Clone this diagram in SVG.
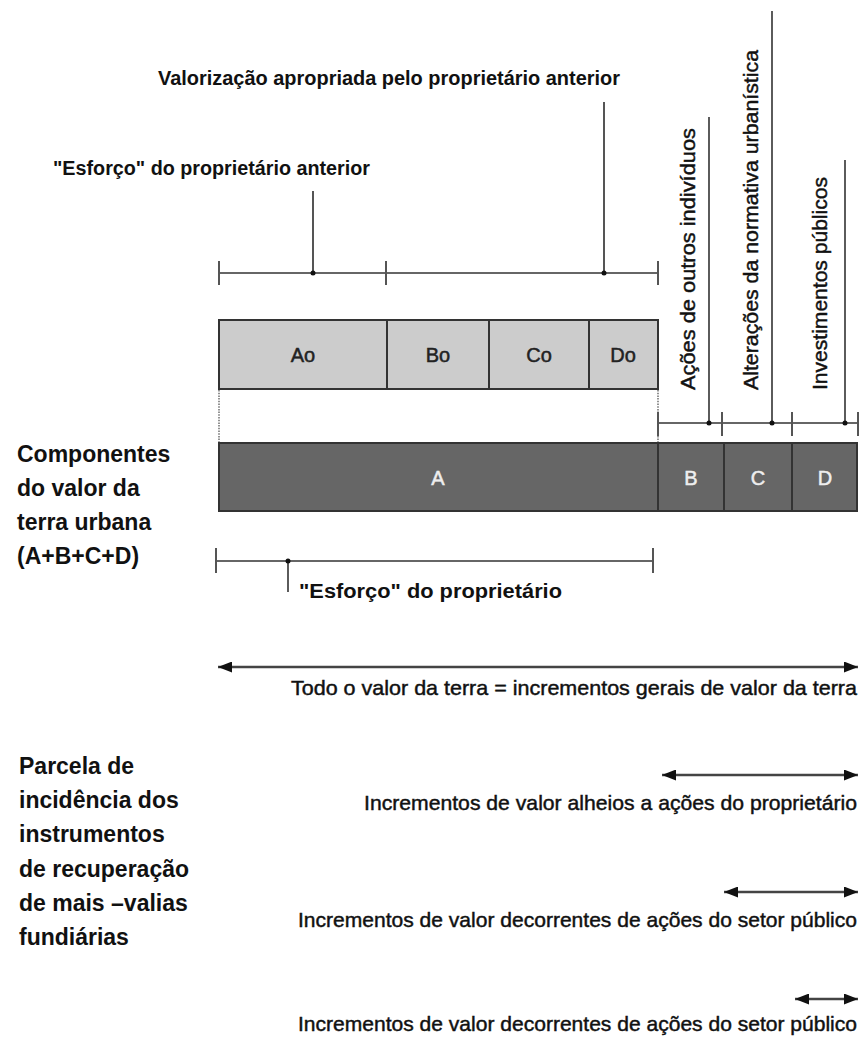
<svg xmlns="http://www.w3.org/2000/svg" width="863" height="1040" viewBox="0 0 863 1040">
<style>
.t{font-family:"Liberation Sans",Arial,sans-serif;fill:#111}
.lbl{font-size:21px;stroke:#111;stroke-width:0.45}
.tb{font-size:20px;font-weight:bold}
.side{font-size:23px;font-weight:bold}
.box-l{fill:#cccccc;stroke:#333;stroke-width:2}
.box-d{fill:#666666;stroke:#333;stroke-width:2}
.ln{stroke:#333;stroke-width:1.6;fill:none}
.tk{stroke:#555;stroke-width:2;fill:none}
.dot{fill:#111}
.dt{stroke:#777;stroke-width:1.6;stroke-dasharray:1.5 1.2;fill:none}
.arr{stroke:#444;stroke-width:2.5;fill:none;marker-start:url(#ah);marker-end:url(#ah)}
.bx{font-family:"Liberation Sans",Arial,sans-serif;font-size:20px;text-anchor:middle;stroke-width:0.5}
</style>
<defs>
<marker id="ah" markerUnits="userSpaceOnUse" markerWidth="14" markerHeight="11" refX="14" refY="5.5" orient="auto-start-reverse" viewBox="0 0 14 11">
<path d="M0,0 L14,5.5 L0,11 z" fill="#111"/>
</marker>
</defs>

<g id="connectors">
<line class="ln" x1="219" y1="273" x2="658" y2="273"/>
<line class="tk" x1="219" y1="261" x2="219" y2="285"/>
<line class="tk" x1="386" y1="261" x2="386" y2="285"/>
<line class="tk" x1="658" y1="261" x2="658" y2="285"/>
<line class="tk" x1="313" y1="191" x2="313" y2="273"/>
<line class="tk" x1="604" y1="102" x2="604" y2="273"/>
<circle class="dot" cx="313" cy="273" r="2.5"/>
<circle class="dot" cx="604" cy="273" r="2.5"/>
<line class="dt" x1="219" y1="390" x2="219" y2="443"/>
<line class="dt" x1="658" y1="390" x2="658" y2="443"/>
<line class="ln" x1="658" y1="423" x2="858" y2="423"/>
<line class="tk" x1="658" y1="412" x2="658" y2="436"/>
<line class="tk" x1="722" y1="412" x2="722" y2="436"/>
<line class="tk" x1="792" y1="412" x2="792" y2="436"/>
<line class="tk" x1="858" y1="412" x2="858" y2="436"/>
<line class="ln" x1="709" y1="117" x2="709" y2="423"/>
<line class="ln" x1="772" y1="11" x2="772" y2="423"/>
<line class="ln" x1="845" y1="160" x2="845" y2="423"/>
<circle class="dot" cx="709" cy="423" r="2.5"/>
<circle class="dot" cx="772" cy="423" r="2.5"/>
<circle class="dot" cx="845" cy="423" r="2.5"/>
<line class="ln" x1="216" y1="561" x2="653" y2="561"/>
<line class="tk" x1="216" y1="548" x2="216" y2="573"/>
<line class="tk" x1="653" y1="548" x2="653" y2="573"/>
<line class="ln" x1="288" y1="561" x2="288" y2="592"/>
<circle class="dot" cx="288" cy="561" r="2.5"/>
<line class="arr" x1="218" y1="667" x2="858" y2="667"/>
<line class="arr" x1="662" y1="775" x2="858" y2="775"/>
<line class="arr" x1="724" y1="892" x2="858" y2="892"/>
<line class="arr" x1="795" y1="999" x2="858" y2="999"/>
</g>

<g id="label-esforco-anterior">
<text class="t tb" x="53" y="175" textLength="317" lengthAdjust="spacingAndGlyphs">"Esforço" do proprietário anterior</text>
</g>
<g id="label-valorizacao">
<text class="t tb" x="158" y="85" textLength="462" lengthAdjust="spacingAndGlyphs">Valorização apropriada pelo proprietário anterior</text>
</g>

<g id="node-Ao"><rect class="box-l" x="219" y="320" width="168" height="69"/><text class="bx" x="303" y="362" fill="#222" stroke="#222">Ao</text></g>
<g id="node-Bo"><rect class="box-l" x="387" y="320" width="102" height="69"/><text class="bx" x="438" y="362" fill="#222" stroke="#222">Bo</text></g>
<g id="node-Co"><rect class="box-l" x="489" y="320" width="100" height="69"/><text class="bx" x="539" y="362" fill="#222" stroke="#222">Co</text></g>
<g id="node-Do"><rect class="box-l" x="589" y="320" width="69" height="69"/><text class="bx" x="623" y="362" fill="#222" stroke="#222">Do</text></g>

<g id="node-A"><rect class="box-d" x="219" y="443" width="439" height="68"/><text class="bx" x="438" y="485" fill="#eeeeee" stroke="#eeeeee">A</text></g>
<g id="node-B"><rect class="box-d" x="658" y="443" width="66" height="68"/><text class="bx" x="691" y="485" fill="#eeeeee" stroke="#eeeeee">B</text></g>
<g id="node-C"><rect class="box-d" x="724" y="443" width="68" height="68"/><text class="bx" x="758" y="485" fill="#eeeeee" stroke="#eeeeee">C</text></g>
<g id="node-D"><rect class="box-d" x="792" y="443" width="65" height="68"/><text class="bx" x="825" y="485" fill="#eeeeee" stroke="#eeeeee">D</text></g>

<g id="label-acoes">
<text class="t lbl" transform="translate(695,390) rotate(-90)" textLength="262" lengthAdjust="spacingAndGlyphs">Ações de outros indivíduos</text>
</g>
<g id="label-alteracoes">
<text class="t lbl" transform="translate(758,390) rotate(-90)" textLength="340" lengthAdjust="spacingAndGlyphs">Alterações da normativa urbanística</text>
</g>
<g id="label-investimentos">
<text class="t lbl" transform="translate(827,390) rotate(-90)" textLength="213" lengthAdjust="spacingAndGlyphs">Investimentos públicos</text>
</g>

<g id="label-componentes">
<text class="t side" x="17" y="462">Componentes</text>
<text class="t side" x="17" y="496">do valor da</text>
<text class="t side" x="17" y="530">terra urbana</text>
<text class="t side" x="17" y="564">(A+B+C+D)</text>
</g>

<g id="label-esforco">
<text class="t tb" x="299" y="598" textLength="263" lengthAdjust="spacingAndGlyphs">"Esforço" do proprietário</text>
</g>

<g id="label-todo">
<text class="t lbl" x="291" y="695" textLength="566" lengthAdjust="spacingAndGlyphs">Todo o valor da terra = incrementos gerais de valor da terra</text>
</g>

<g id="label-parcela">
<text class="t side" x="19" y="774">Parcela de</text>
<text class="t side" x="19" y="808">incidência dos</text>
<text class="t side" x="19" y="842">instrumentos</text>
<text class="t side" x="19" y="877">de recuperação</text>
<text class="t side" x="19" y="911">de mais –valias</text>
<text class="t side" x="19" y="945">fundiárias</text>
</g>

<g id="label-alheios">
<text class="t lbl" x="364" y="810" textLength="493" lengthAdjust="spacingAndGlyphs">Incrementos de valor alheios a ações do proprietário</text>
</g>
<g id="label-setor1">
<text class="t lbl" x="298" y="927" textLength="559" lengthAdjust="spacingAndGlyphs">Incrementos de valor decorrentes de ações do setor público</text>
</g>
<g id="label-setor2">
<text class="t lbl" x="298" y="1031" textLength="559" lengthAdjust="spacingAndGlyphs">Incrementos de valor decorrentes de ações do setor público</text>
</g>
</svg>
